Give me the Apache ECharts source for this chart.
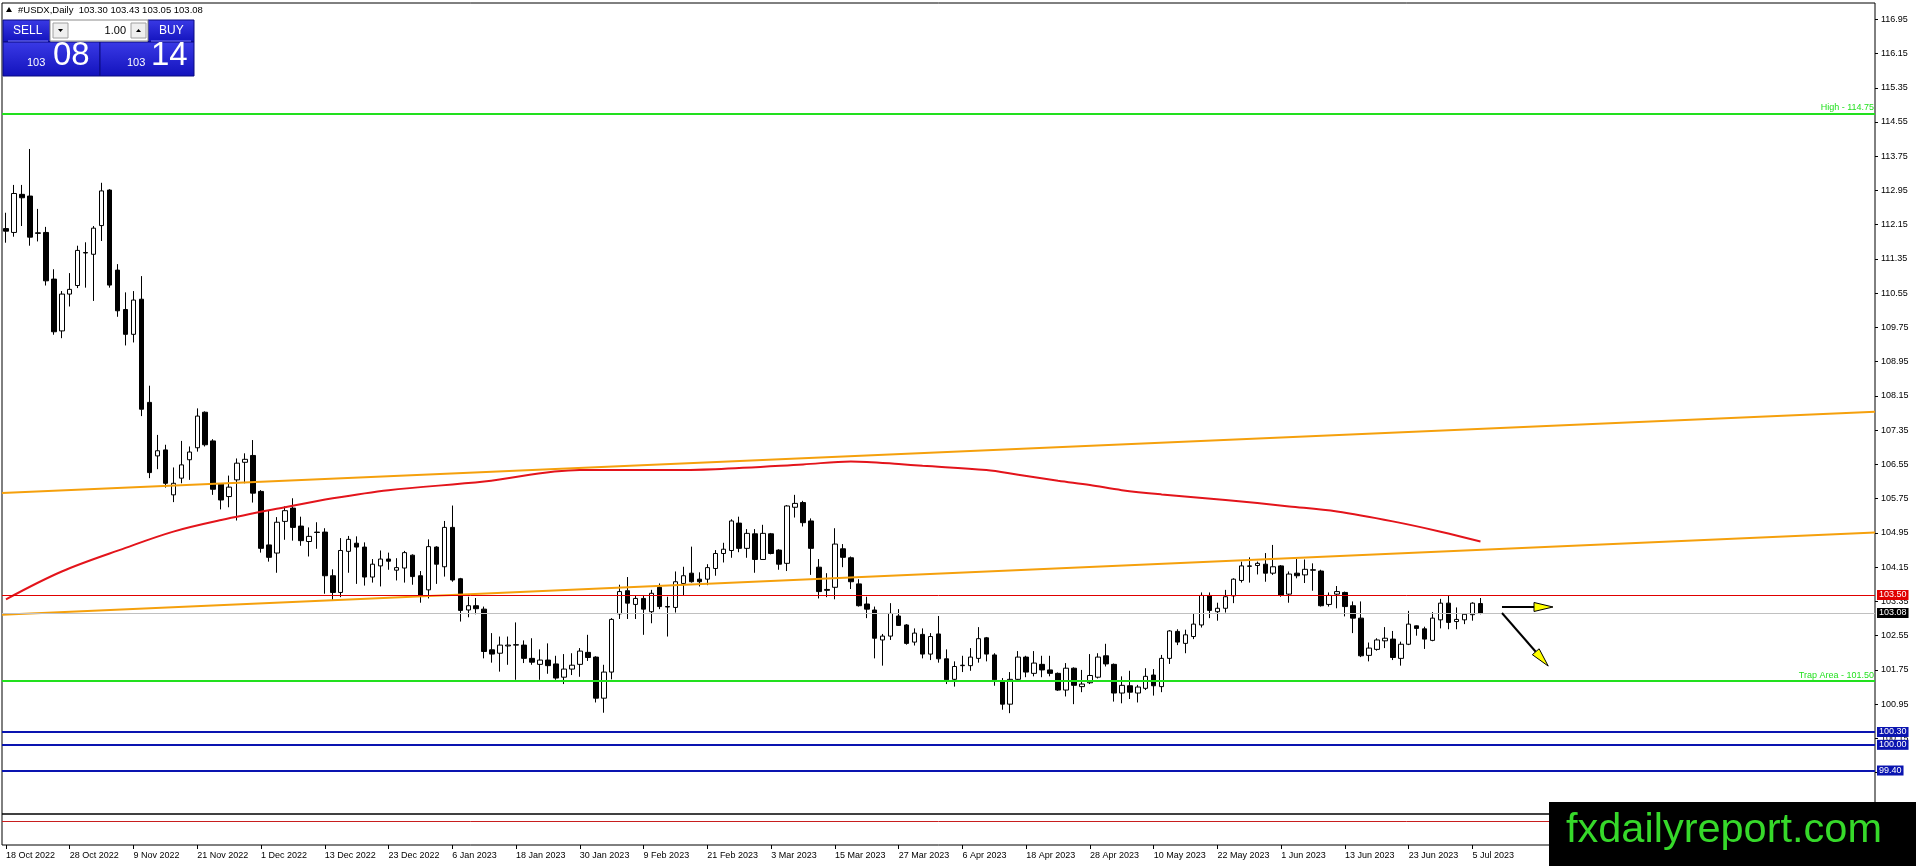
<!DOCTYPE html>
<html>
<head>
<meta charset="utf-8">
<title>#USDX,Daily</title>
<style>
  html, body { margin: 0; padding: 0; background: #fff; }
  #main { width: 1916px; height: 866px; }
</style>
</head>
<body>
<div id="main"></div>
<script src="https://cdn.jsdelivr.net/npm/echarts@6.0.0/dist/echarts.min.js"></script>
<script>
// daily bars, 18 Oct 2022 .. 6 Jul 2023
var opens = [
  112.06,111.97,112.86,112.82,111.96,111.97,110.88,109.67,110.53,110.73,
  111.50,111.46,112.13,112.96,111.09,110.17,109.59,110.41,108.00,106.75,
  106.89,105.84,106.23,106.66,106.94,107.77,107.10,106.09,105.80,106.19,
  106.60,106.76,105.92,104.67,104.48,105.22,105.53,105.11,104.75,104.97,
  104.97,103.95,103.56,104.52,104.71,104.62,103.92,104.18,104.34,104.08,
  104.13,104.43,103.95,103.62,104.62,104.16,105.08,103.88,103.15,103.25,
  103.17,102.22,102.14,102.31,102.33,102.33,102.02,101.88,101.98,101.89,
  101.58,101.77,101.88,102.16,102.05,101.09,101.70,103.06,103.60,103.28,
  103.42,103.11,103.68,103.23,103.21,103.77,104.01,103.87,103.87,104.12,
  104.47,104.54,105.18,104.59,104.93,104.33,104.93,104.55,104.24,105.55,
  105.66,105.23,104.15,103.63,103.68,104.58,104.37,103.76,103.29,103.15,
  102.45,102.54,103.01,102.80,102.40,102.58,102.12,102.59,102.01,101.53,
  101.85,101.85,102.02,102.50,102.10,101.48,100.95,101.53,102.05,101.67,
  101.88,101.75,101.67,101.28,101.79,101.36,101.45,101.58,102.08,101.88,
  101.21,101.38,101.21,101.32,101.63,101.36,102.02,102.65,102.37,102.53,
  102.80,103.49,103.11,103.19,103.48,103.84,104.17,104.19,104.22,104.01,
  104.18,103.52,104.01,103.97,104.09,104.06,103.28,103.52,103.56,103.25,
  102.96,102.09,102.23,102.43,102.47,102.02,102.35,102.78,102.71,102.44,
  102.92,103.31,102.88,102.92,103.04,103.30
];
var highs = [
  112.43,113.08,113.08,113.92,112.52,112.10,111.11,110.60,111.02,111.66,
  111.74,112.12,113.13,112.98,111.23,110.57,110.60,110.95,108.39,107.24,
  107.01,106.48,107.10,106.97,107.86,107.79,107.14,106.11,106.29,106.69,
  106.81,107.12,105.95,105.47,105.32,105.57,105.76,105.33,105.08,105.20,
  105.06,104.10,104.83,104.88,104.87,104.73,104.34,104.54,104.49,104.36,
  104.53,104.45,104.06,104.80,104.64,105.23,105.59,103.90,103.46,103.43,
  103.23,102.61,102.53,102.53,102.86,102.44,102.49,102.23,102.37,102.08,
  102.12,102.14,102.26,102.57,102.07,101.87,102.96,103.74,103.92,103.50,
  103.50,103.62,103.77,103.46,104.05,104.16,104.63,104.03,104.22,104.55,
  104.72,105.27,105.33,105.04,105.04,105.14,104.95,104.57,105.60,105.84,
  105.70,105.29,104.34,104.01,105.06,104.69,104.40,103.87,103.46,103.23,
  102.59,103.31,103.17,102.82,102.72,102.72,102.61,103.01,102.23,101.95,
  102.08,102.26,102.75,102.52,102.14,101.56,101.70,102.19,102.08,102.19,
  102.08,102.08,101.69,101.91,101.81,101.75,102.12,102.14,102.36,101.90,
  101.60,101.73,101.40,101.79,101.77,102.10,102.68,102.70,102.69,103.06,
  103.56,103.56,103.32,103.62,103.89,104.28,104.38,104.28,104.48,104.67,
  104.20,104.05,104.34,104.33,104.24,104.09,103.56,103.71,103.58,103.35,
  103.35,102.39,102.49,102.75,102.66,102.41,103.13,102.79,102.76,103.10,
  103.41,103.50,103.21,103.05,103.33,103.43
];
var lows = [
  111.73,111.87,112.12,111.66,111.76,110.73,109.58,109.50,110.24,110.67,
  110.68,110.37,111.77,110.68,110.00,109.33,109.40,107.68,106.23,106.44,
  106.01,105.67,106.11,106.19,106.85,106.97,105.84,105.50,105.55,105.24,
  106.11,105.66,104.49,104.28,104.02,104.79,104.77,104.65,104.40,104.58,
  103.53,103.39,103.45,104.02,103.76,103.72,103.79,103.70,104.09,103.84,
  103.79,103.74,103.32,103.42,103.76,103.93,103.81,102.88,102.98,103.05,
  102.02,101.92,101.71,101.87,101.52,101.91,101.87,101.52,101.66,101.52,
  101.42,101.63,101.59,101.96,100.99,100.75,101.53,102.94,102.94,102.94,
  102.57,102.84,103.17,102.53,103.09,103.48,103.79,103.70,103.73,103.95,
  104.26,104.37,104.50,104.37,104.02,104.32,104.45,104.09,104.06,105.31,
  105.10,103.97,103.42,103.45,103.40,104.15,103.64,103.23,102.96,102.02,
  101.85,102.45,102.78,102.34,102.32,102.02,101.98,101.92,101.42,101.36,
  101.70,101.73,101.92,101.95,101.38,100.82,100.74,101.51,101.58,101.60,
  101.58,101.60,101.26,101.13,100.95,101.23,101.42,101.55,101.83,101.01,
  100.97,101.07,100.99,101.28,101.15,101.23,101.89,102.33,102.14,102.47,
  102.74,102.96,102.90,103.09,103.31,103.79,103.79,103.98,103.81,103.97,
  103.46,103.32,103.89,103.78,103.60,103.23,103.23,103.19,103.00,102.61,
  102.05,101.95,102.20,102.26,101.98,101.85,102.33,102.55,102.24,102.42,
  102.72,102.70,102.70,102.82,102.90,103.05
];
var closes = [
  112.00,112.88,112.78,111.86,111.95,110.84,109.65,110.53,110.64,111.55,
  111.49,112.07,112.94,110.74,110.14,109.59,110.39,107.84,106.36,106.87,
  106.11,106.11,106.54,106.84,107.68,107.01,105.97,105.72,106.02,106.58,
  106.67,105.88,104.59,104.38,105.20,105.47,105.08,104.77,104.87,104.96,
  103.95,103.56,104.54,104.80,104.62,103.92,104.22,104.34,104.29,104.14,
  104.49,103.93,103.48,104.63,104.22,105.08,103.85,103.14,103.25,103.18,
  102.18,102.12,102.33,102.33,102.34,102.02,101.93,101.98,101.85,101.56,
  101.77,101.86,102.19,102.04,101.09,101.70,102.93,103.58,103.31,103.42,
  103.17,103.54,103.23,103.22,103.81,103.95,103.81,103.81,104.14,104.47,
  104.57,105.23,104.59,104.94,104.33,104.94,104.47,104.22,105.58,105.64,
  105.19,104.59,103.58,103.61,104.69,104.38,103.81,103.25,103.17,102.49,
  102.54,103.07,102.79,102.37,102.61,102.12,102.53,102.01,101.52,101.83,
  101.86,102.05,102.48,102.12,101.52,100.95,101.53,102.05,101.70,101.91,
  101.75,101.67,101.28,101.79,101.39,101.42,101.62,102.05,101.89,101.21,
  101.39,101.23,101.35,101.60,101.38,102.02,102.66,102.40,102.57,102.82,
  103.49,103.14,103.19,103.46,103.87,104.18,104.18,104.24,104.01,104.16,
  103.49,103.99,103.95,104.10,104.08,103.25,103.49,103.58,103.23,102.96,
  102.08,102.26,102.45,102.49,102.04,102.35,102.82,102.72,102.47,102.96,
  103.31,102.86,102.93,103.05,103.31,103.08
];

// one date label every 8 bars
var dateLabels = ['18 Oct 2022','28 Oct 2022','9 Nov 2022','21 Nov 2022','1 Dec 2022',
  '13 Dec 2022','23 Dec 2022','6 Jan 2023','18 Jan 2023','30 Jan 2023','9 Feb 2023',
  '21 Feb 2023','3 Mar 2023','15 Mar 2023','27 Mar 2023','6 Apr 2023','18 Apr 2023',
  '28 Apr 2023','10 May 2023','22 May 2023','1 Jun 2023','13 Jun 2023','23 Jun 2023','5 Jul 2023'];
var labelStep = 8;
var slotCount = 235; // bars + empty space on the right

var priceTicks = [116.95,116.15,115.35,114.55,113.75,112.95,112.15,111.35,110.55,109.75,
  108.95,108.15,107.35,106.55,105.75,104.95,104.15,103.35,102.55,101.75,100.95,100.15,
  99.35,98.55,97.75];

// moving average (read at these bar indexes)
var maIndex = [0,7,15,21,27,35,41,48,60,72,82,89,100,106,108,112,115,123,127,132,136,140,145,153,161,167,174,180,185];
var maValue = [103.40,104.05,104.60,104.98,105.25,105.55,105.76,105.95,106.15,106.42,106.42,106.44,
  106.55,106.62,106.61,106.56,106.52,106.42,106.31,106.17,106.07,105.95,105.85,105.72,105.57,
  105.45,105.22,104.98,104.75];

// channel lines, from left edge to right edge
var upperTrend = [[-0.5, 105.885], [234.5, 107.78]];
var lowerTrend = [[-0.5, 103.04], [234.5, 104.96]];

// drawn arrows: x1, y1, x2, y2
var arrows = [[187.7, 103.22, 194.1, 103.22], [187.7, 103.08, 193.5, 101.84]];

var highLevel = 114.75, resistLevel = 103.50, bidLevel = 103.08, trapLevel = 101.50;
var blueLevels = [100.30, 100.00, 99.40];
var bottomBlack = 98.38, bottomRed = 98.22;
var buyPrice = '103.14';

var myChart = echarts.init(document.getElementById('main'));

var candles = opens.map(function (o, i) { return [o, closes[i], lows[i], highs[i]]; });
var maData = maIndex.map(function (x, i) { return [x, maValue[i]]; });
var slots = [];
for (var i = 0; i < slotCount; i++) slots.push(String(i));

function showDate(index) {
  return index % labelStep === 0 && index / labelStep < dateLabels.length;
}

var last = candles.length - 1;
var headerText = '#USDX,Daily  ' + opens[last].toFixed(2) + ' ' + highs[last].toFixed(2) + ' ' +
  lows[last].toFixed(2) + ' ' + closes[last].toFixed(2);
var sellPrice = closes[last].toFixed(2);

var F = '"Liberation Sans", Arial, sans-serif';
var green = '#22e01e', blue = '#0a14b0';

function priceBox(v, bg, lineColor, w) {
  return {
    yAxis: v,
    lineStyle: { color: lineColor, width: w, type: 'solid' },
    label: {
      show: true, position: 'end', distance: 2, formatter: v.toFixed(2),
      color: '#fff', backgroundColor: bg, padding: [1, 2, 0, 2],
      fontSize: 9, fontFamily: F
    }
  };
}
function textLevel(v, txt) {
  return {
    yAxis: v,
    lineStyle: { color: green, width: 2, type: 'solid' },
    label: {
      show: true, position: 'insideEndTop', distance: [1, 1], formatter: txt,
      color: green, fontSize: 9, fontFamily: F
    }
  };
}

var blueBg = new echarts.graphic.LinearGradient(0, 0, 0, 1, [
  { offset: 0, color: '#3a3ae6' }, { offset: 1, color: '#1212bc' }
]);

option = {
  animation: false,
  textStyle: { fontFamily: F },
  grid: { left: 2, right: 41, top: 3, bottom: 21, show: true, borderColor: '#000', borderWidth: 1 },
  xAxis: [
    {
      type: 'category',
      data: slots,
      boundaryGap: true,
      axisLine: { show: false, onZero: false },
      axisTick: { show: true, alignWithLabel: true, length: 4, interval: showDate, lineStyle: { color: '#000' } },
      axisLabel: {
        interval: showDate, align: 'left', margin: 6, fontSize: 9, color: '#000',
        formatter: function (v, idx) { return dateLabels[idx / labelStep] || ''; }
      },
      splitLine: { show: false }
    },
    { type: 'value', min: -0.5, max: slotCount - 0.5, show: false }
  ],
  yAxis: [{
    type: 'value',
    position: 'right',
    min: 97.66,
    max: 117.33,
    axisLine: { show: false, onZero: false },
    splitLine: { show: false },
    axisTick: { show: true, length: 3, customValues: priceTicks, lineStyle: { color: '#000' } },
    axisLabel: {
      customValues: priceTicks, margin: 6, fontSize: 9, color: '#000',
      formatter: function (v) { return v.toFixed(2); }
    }
  }],
  series: [
    {
      type: 'candlestick',
      data: candles,
      barWidth: 5,
      silent: true,
      z: 2,
      itemStyle: { color: '#fff', color0: '#000', borderColor: '#000', borderColor0: '#000', borderWidth: 1 }
    },
    {
      type: 'line',
      data: maData,
      smooth: 0.35,
      showSymbol: false,
      silent: true,
      z: 3,
      lineStyle: { color: '#e3141b', width: 2 },
      markLine: {
        silent: true,
        symbol: ['none', 'none'],
        animation: false,
        data: [
          textLevel(highLevel, 'High - ' + highLevel.toFixed(2)),
          textLevel(trapLevel, 'Trap Area - ' + trapLevel.toFixed(2)),
          priceBox(resistLevel, '#e00000', '#e00000', 1),
          priceBox(bidLevel, '#000', '#c0c0c0', 1),
          priceBox(blueLevels[0], blue, blue, 2),
          priceBox(blueLevels[1], blue, blue, 2),
          priceBox(blueLevels[2], blue, blue, 2),
          { yAxis: bottomBlack, lineStyle: { color: '#000', width: 1.5, type: 'solid' }, label: { show: false } },
          { yAxis: bottomRed, lineStyle: { color: '#c81e1e', width: 1, type: 'solid' }, label: { show: false } }
        ]
      }
    },
    {
      type: 'line', xAxisIndex: 1, data: upperTrend, symbol: 'none', silent: true, z: 3,
      lineStyle: { color: '#f5a00c', width: 2 }
    },
    {
      type: 'line', xAxisIndex: 1, data: lowerTrend, symbol: 'none', silent: true, z: 3,
      lineStyle: { color: '#f5a00c', width: 2 }
    },
    {
      type: 'custom',
      xAxisIndex: 1,
      data: arrows,
      encode: { x: [0, 2], y: [1, 3] },
      silent: true,
      z: 5,
      renderItem: function (params, api) {
        var p1 = api.coord([api.value(0), api.value(1)]);
        var p2 = api.coord([api.value(2), api.value(3)]);
        var dx = p2[0] - p1[0], dy = p2[1] - p1[1];
        var len = Math.sqrt(dx * dx + dy * dy);
        var ux = dx / len, uy = dy / len;
        var hl = 19, hw = 4.5;
        var bx = p2[0] - ux * hl, by = p2[1] - uy * hl;
        return {
          type: 'group',
          children: [
            { type: 'line', shape: { x1: p1[0], y1: p1[1], x2: bx, y2: by }, style: { stroke: '#000', lineWidth: 2 } },
            { type: 'polygon', shape: { points: [[p2[0], p2[1]], [bx - uy * hw, by + ux * hw], [bx + uy * hw, by - ux * hw]] },
              style: { fill: '#ffff00', stroke: '#000', lineWidth: 1 } }
          ]
        };
      }
    }
  ],
  graphic: [
    // header
    { type: 'polygon', shape: { points: [[6, 12], [9, 7], [12, 12]] }, style: { fill: '#000' }, z: 50 },
    { type: 'text', x: 18, y: 10, style: { text: headerText, fill: '#000', font: '9.5px ' + F, verticalAlign: 'middle' }, z: 50 },
    // one click trading panel
    { type: 'rect', shape: { x: 3, y: 20, width: 47, height: 22 }, style: { fill: blueBg, stroke: '#0a0a80' }, z: 50 },
    { type: 'rect', shape: { x: 148, y: 20, width: 46, height: 22 }, style: { fill: blueBg, stroke: '#0a0a80' }, z: 50 },
    { type: 'rect', shape: { x: 3, y: 42, width: 97, height: 34 }, style: { fill: blueBg, stroke: '#0a0a80' }, z: 50 },
    { type: 'rect', shape: { x: 100, y: 42, width: 94, height: 34 }, style: { fill: blueBg, stroke: '#0a0a80' }, z: 50 },
    { type: 'line', shape: { x1: 8, y1: 41, x2: 48, y2: 41 }, style: { stroke: '#7a7aff', lineWidth: 1 }, z: 51 },
    { type: 'line', shape: { x1: 151, y1: 41, x2: 191, y2: 41 }, style: { stroke: '#7a7aff', lineWidth: 1 }, z: 51 },
    { type: 'rect', shape: { x: 50, y: 20, width: 98, height: 21 }, style: { fill: '#fff', stroke: '#8a8a8a' }, z: 51 },
    { type: 'rect', shape: { x: 53, y: 23, width: 15, height: 15 }, style: { fill: '#efefef', stroke: '#a0a0a0' }, z: 52 },
    { type: 'rect', shape: { x: 131, y: 23, width: 15, height: 15 }, style: { fill: '#efefef', stroke: '#a0a0a0' }, z: 52 },
    { type: 'polygon', shape: { points: [[58, 29], [63, 29], [60.5, 32]] }, style: { fill: '#000' }, z: 53 },
    { type: 'polygon', shape: { points: [[136, 32], [141, 32], [138.5, 29]] }, style: { fill: '#000' }, z: 53 },
    { type: 'text', x: 126, y: 31, style: { text: '1.00', fill: '#000', font: '11px ' + F, align: 'right', verticalAlign: 'middle' }, z: 53 },
    { type: 'text', x: 13, y: 31, style: { text: 'SELL', fill: '#fff', font: '12px ' + F, verticalAlign: 'middle' }, z: 53 },
    { type: 'text', x: 159, y: 31, style: { text: 'BUY', fill: '#fff', font: '12px ' + F, verticalAlign: 'middle' }, z: 53 },
    { type: 'text', x: 27, y: 63, style: { text: sellPrice.slice(0, 3), fill: '#fff', font: '11px ' + F, verticalAlign: 'middle' }, z: 53 },
    { type: 'text', x: 53, y: 56, style: { text: sellPrice.slice(4), fill: '#fff', font: '33px ' + F, verticalAlign: 'middle' }, z: 53 },
    { type: 'text', x: 127, y: 63, style: { text: buyPrice.slice(0, 3), fill: '#fff', font: '11px ' + F, verticalAlign: 'middle' }, z: 53 },
    { type: 'text', x: 151, y: 56, style: { text: buyPrice.slice(4), fill: '#fff', font: '33px ' + F, verticalAlign: 'middle' }, z: 53 },
    // watermark
    { type: 'rect', shape: { x: 1549, y: 802, width: 367, height: 64 }, style: { fill: '#000' }, z: 100 },
    { type: 'text', x: 1566, y: 831, style: { text: 'fxdailyreport.com', fill: '#36d92a', font: '41.5px ' + F, verticalAlign: 'middle' }, z: 101 }
  ]
};

myChart.setOption(option);
</script>
</body>
</html>
